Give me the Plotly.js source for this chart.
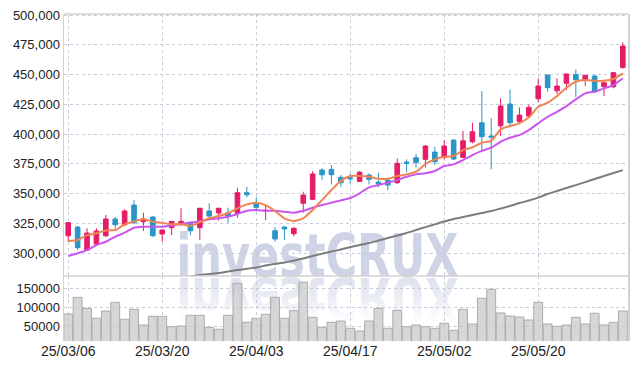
<!DOCTYPE html>
<html>
<head>
<meta charset="utf-8">
<script src="https://cdn.plot.ly/plotly-3.0.1.min.js"></script>
<style>
  html, body { margin: 0; padding: 0; background: #ffffff; }
  #chart { width: 637px; height: 370px; }
</style>
</head>
<body>
<div id="chart"></div>
<script>
// ---------------- data ----------------
const dates = ["25/03/06","25/03/07","25/03/10","25/03/11","25/03/12","25/03/13","25/03/14","25/03/17","25/03/18","25/03/19",
  "25/03/20","25/03/21","25/03/24","25/03/25","25/03/26","25/03/27","25/03/28","25/03/31","25/04/01","25/04/02",
  "25/04/03","25/04/04","25/04/07","25/04/08","25/04/09","25/04/10","25/04/11","25/04/14","25/04/15","25/04/16",
  "25/04/17","25/04/18","25/04/21","25/04/22","25/04/23","25/04/24","25/04/25","25/04/28","25/04/29","25/04/30",
  "25/05/02","25/05/07","25/05/08","25/05/09","25/05/12","25/05/13","25/05/14","25/05/15","25/05/16","25/05/19",
  "25/05/20","25/05/21","25/05/22","25/05/23","25/05/26","25/05/27","25/05/28","25/05/29","25/05/30","25/06/02"];

const openP = [314500,321800,302500,307600,314500,328600,323800,340300,326300,330200,
  316000,321300,323800,325800,321300,335300,333600,333900,333400,350700,
  341800,335300,318700,321800,316200,341800,345100,369700,370300,363600,
  363300,360200,365500,359600,361300,359100,376400,380100,378700,384800,
  380400,394900,380400,393500,409500,398300,406900,425200,410300,415100,
  429600,449500,436300,442600,450100,445300,448700,439700,439700,456000];
const highP = [326000,322500,320800,320800,331900,330200,336700,344500,333900,331000,
  320000,327000,337600,326500,338000,341800,338000,338100,354900,355700,
  346800,340900,321800,322700,321600,351500,368900,371200,373900,365500,
  367000,368900,367000,367500,362800,379600,378700,383200,390700,389300,
  394900,395500,402700,409500,436100,413200,430000,437500,422400,424900,
  446800,450000,446800,451000,454300,449500,450100,443500,452300,477000];
const lowP = [309500,302500,301700,306500,313500,320800,322500,324100,318500,313500,
  309500,315100,323000,315100,310900,327700,327100,325500,329700,346800,
  334700,327700,309500,310900,314000,333900,344500,361300,357700,355700,
  358600,359600,357700,355200,352900,358000,368000,372000,372000,373900,
  378700,378100,379600,392200,385100,370300,398300,407500,408400,414000,
  426600,435500,433600,436900,430800,440300,434700,431900,438400,454800];
const closeP = [325500,304500,316800,318500,328600,323800,335300,325500,328600,314500,
  319300,326600,326600,318700,337600,331100,337600,331100,350700,349000,
  338400,335900,311800,320200,320800,348700,366400,365800,365800,359100,
  362400,367800,361900,358000,357100,375400,375400,376200,389900,376700,
  389900,379000,394300,401900,397700,397400,423500,409500,415900,422400,
  440300,438900,440300,450400,445600,449300,435500,443100,451500,473900];

const maShort = [310100,310900,315000,316600,319000,319300,324100,326500,328600,326300,
  325400,324100,324300,322900,326000,329200,331100,333400,337600,340900,
  342300,340300,335300,329200,326900,329200,336100,344500,352900,360600,
  364700,364700,364100,362400,362400,364700,366100,368300,374800,378700,
  380900,381500,386500,388800,392700,394300,403900,406700,409000,414000,
  422900,426300,431900,438900,443900,445300,444700,444700,446200,451000];
const maMid = [297500,299800,302500,306700,309500,313700,317100,321300,322100,322100,
  322100,323300,324400,325500,326800,328300,329200,330500,332800,335500,
  336100,335500,335500,334700,333900,335500,338100,340300,342300,344200,
  346200,350200,355200,357100,359100,361300,364100,366100,367000,368900,
  373100,374500,378100,382300,385800,388500,393500,396900,399100,403300,
  409000,414500,418700,423500,429100,434200,435500,438400,441100,446800];
const maLong = [null,null,null,null,null,null,null,null,null,null,
  null,null,null,280400,281600,282400,283200,284500,285700,286800,
  287800,289500,290800,292000,293700,295400,297500,299400,301300,302900,
  305000,306700,308400,310500,312600,314700,316800,319300,321800,324100,
  326500,328600,330200,331900,333600,335300,337400,339500,342000,344100,
  346600,349600,352100,354600,357100,359600,362200,364700,367200,369700];

const volume = [83000,126500,97900,71900,90900,113500,69300,95300,54400,77100,
  77100,50000,51800,79700,79700,48400,43200,79700,163000,61500,
  71900,82300,126500,71900,91700,165600,74500,48400,61500,64800,
  45800,38800,64800,97900,45800,92700,50000,54400,50000,45800,
  58900,40600,95300,57000,124000,147400,85700,77900,75300,67400,
  113500,57000,51000,54400,74500,57000,84900,54400,61500,90900];

const priceTicks = [300000,325000,350000,375000,400000,425000,450000,475000,500000];
const volumeTicks = [50000,100000,150000];
const dateTickIdx = [0,10,20,30,40,50];
const watermarkText = "investCRUX";

// ---------------- style ----------------
const UP = 'rgb(229,28,104)';
const DOWN = 'rgb(42,150,199)';
const GRID = 'rgb(200,204,218)';
const FRAME = 'rgb(210,210,210)';
const TICKFONT = 'Liberation Sans, Arial, sans-serif';
const WMFONT = 'DejaVu Sans, Liberation Sans, sans-serif';

const traces = [
  {
    type: 'bar', x: dates, y: volume, xaxis: 'x', yaxis: 'y2',
    marker: { color: 'rgba(200,200,200,0.72)', line: { color: 'rgb(172,172,172)', width: 1 } },
    hoverinfo: 'skip'
  },
  {
    type: 'candlestick', x: dates, open: openP, high: highP, low: lowP, close: closeP,
    xaxis: 'x', yaxis: 'y',
    increasing: { line: { color: UP, width: 1 }, fillcolor: UP },
    decreasing: { line: { color: DOWN, width: 1 }, fillcolor: DOWN },
    whiskerwidth: 0, hoverinfo: 'skip'
  },
  {
    type: 'scatter', mode: 'lines', x: dates, y: maLong, xaxis: 'x', yaxis: 'y',
    line: { color: 'rgb(125,125,125)', width: 2, shape: 'spline', smoothing: 0.6 },
    connectgaps: false, hoverinfo: 'skip'
  },
  {
    type: 'scatter', mode: 'lines', x: dates, y: maMid, xaxis: 'x', yaxis: 'y',
    line: { color: 'rgb(204,85,238)', width: 2, shape: 'spline', smoothing: 0.6 },
    hoverinfo: 'skip'
  },
  {
    type: 'scatter', mode: 'lines', x: dates, y: maShort, xaxis: 'x', yaxis: 'y',
    line: { color: 'rgb(240,132,82)', width: 2, shape: 'spline', smoothing: 0.6 },
    hoverinfo: 'skip'
  }
];

const VOLDOM = 65 / 327;

const layout = {
  width: 637, height: 370,
  margin: { l: 64, r: 9, t: 14, b: 29, pad: 0 },
  paper_bgcolor: '#ffffff',
  plot_bgcolor: 'rgba(0,0,0,0)',
  showlegend: false,
  boxgap: 0.3,
  bargap: 0.06,
  hovermode: false,
  xaxis: {
    type: 'category', anchor: 'y2',
    range: [-0.45, 59.55],
    tickvals: dateTickIdx.map(i => dates[i]),
    ticktext: dateTickIdx.map(i => dates[i]),
    showgrid: true, gridcolor: GRID, griddash: 'dot', gridwidth: 1,
    showline: false, zeroline: false, ticks: '',
    tickfont: { family: TICKFONT, size: 14, color: '#222' },
    rangeslider: { visible: false }, fixedrange: true
  },
  yaxis: {
    domain: [VOLDOM, 1], anchor: 'x',
    range: [280700, 500850],
    tickvals: priceTicks, tickformat: ',d',
    showgrid: true, gridcolor: GRID, griddash: 'dot', gridwidth: 1,
    showline: true, linecolor: FRAME, linewidth: 1.5, mirror: true,
    zeroline: false, ticks: '',
    tickfont: { family: TICKFONT, size: 13, color: '#222' }, fixedrange: true
  },
  yaxis2: {
    domain: [0, VOLDOM], anchor: 'x',
    range: [12760, 182000],
    tickvals: volumeTicks, tickformat: 'd',
    showgrid: true, gridcolor: GRID, griddash: 'dot', gridwidth: 1,
    showline: true, linecolor: FRAME, linewidth: 1.5, mirror: true,
    zeroline: false, ticks: '',
    tickfont: { family: TICKFONT, size: 13, color: '#222' }, fixedrange: true
  },
  shapes: [
    { type: 'line', xref: 'paper', yref: 'paper', x0: 0, x1: 1, y0: 1, y1: 1, line: { color: FRAME, width: 1.5 } },
    { type: 'line', xref: 'paper', yref: 'paper', x0: 0, x1: 1, y0: VOLDOM, y1: VOLDOM, line: { color: FRAME, width: 1.5 } }
  ],
  annotations: [
    { text: '<b>' + watermarkText + '</b>', xref: 'paper', yref: 'paper', x: 0.45, y: 0.3, showarrow: false,
      font: { family: WMFONT, size: 59, color: 'rgb(206,212,229)', weight: 'bold' } },
    { text: '<b>' + watermarkText + '</b>', xref: 'paper', yref: 'paper', x: 0.45, y: 0.3, showarrow: false,
      font: { family: WMFONT, size: 59, color: 'rgb(224,228,238)', weight: 'bold' } }
  ]
};

Plotly.newPlot('chart', traces, layout, { staticPlot: true, displayModeBar: false }).then(function (gd) {
  try {
    const ns = 'http://www.w3.org/2000/svg';
    const mainSvg = gd.querySelector('svg.main-svg');
    const below = mainSvg.querySelector('.layer-below');
    const svgBox = mainSvg.getBoundingClientRect();
    const FS = 59, DESC = 0.236;
    const TX = 317.5, TW = 282, BASE = 276, MIR = 277;

    let defs = mainSvg.querySelector('defs');
    if (!defs) { defs = document.createElementNS(ns, 'defs'); mainSvg.insertBefore(defs, mainSvg.firstChild); }
    const grad = document.createElementNS(ns, 'linearGradient');
    grad.setAttribute('id', 'wmfade');
    grad.setAttribute('x1', '0'); grad.setAttribute('y1', '0');
    grad.setAttribute('x2', '0'); grad.setAttribute('y2', '1');
    [[0.15, 0.0], [0.5, 0.6], [0.8, 1.0]].forEach(function (s) {
      const st = document.createElementNS(ns, 'stop');
      st.setAttribute('offset', s[0]);
      st.setAttribute('stop-color', 'rgb(222,226,237)');
      st.setAttribute('stop-opacity', s[1]);
      grad.appendChild(st);
    });
    defs.appendChild(grad);

    function place(idx, flip) {
      const ann = gd.querySelector('.annotation[data-index="' + idx + '"]');
      if (!ann) return;
      const wrap = document.createElementNS(ns, 'g');
      below.appendChild(wrap);
      wrap.appendChild(ann);
      const bg = ann.querySelector('rect.bg');
      if (bg) bg.style.display = 'none';
      const t = ann.querySelector('text');
      t.style.fontWeight = 'bold';
      t.setAttribute('font-weight', 'bold');
      t.querySelectorAll('tspan').forEach(function (s) { s.style.fontWeight = 'bold'; });
      t.setAttribute('textLength', TW);
      t.setAttribute('lengthAdjust', 'spacingAndGlyphs');
      if (flip) {
        t.style.fill = 'url(#wmfade)';
        t.querySelectorAll('tspan').forEach(function (s) { s.style.fill = 'url(#wmfade)'; });
      }
      const bb = t.getBoundingClientRect();
      const baseline = bb.bottom - svgBox.top - DESC * FS;
      const cx = (bb.left + bb.right) / 2 - svgBox.left;
      const dx = TX - cx, dy = BASE - baseline;
      if (flip) {
        wrap.setAttribute('transform', 'translate(0,' + (2 * MIR) + ') scale(1,-1) translate(' + dx + ',' + dy + ')');
      } else {
        wrap.setAttribute('transform', 'translate(' + dx + ',' + dy + ')');
      }
    }
    place(1, true);
    place(0, false);
  } catch (e) { console.log(e); }
});
</script>
</body>
</html>
